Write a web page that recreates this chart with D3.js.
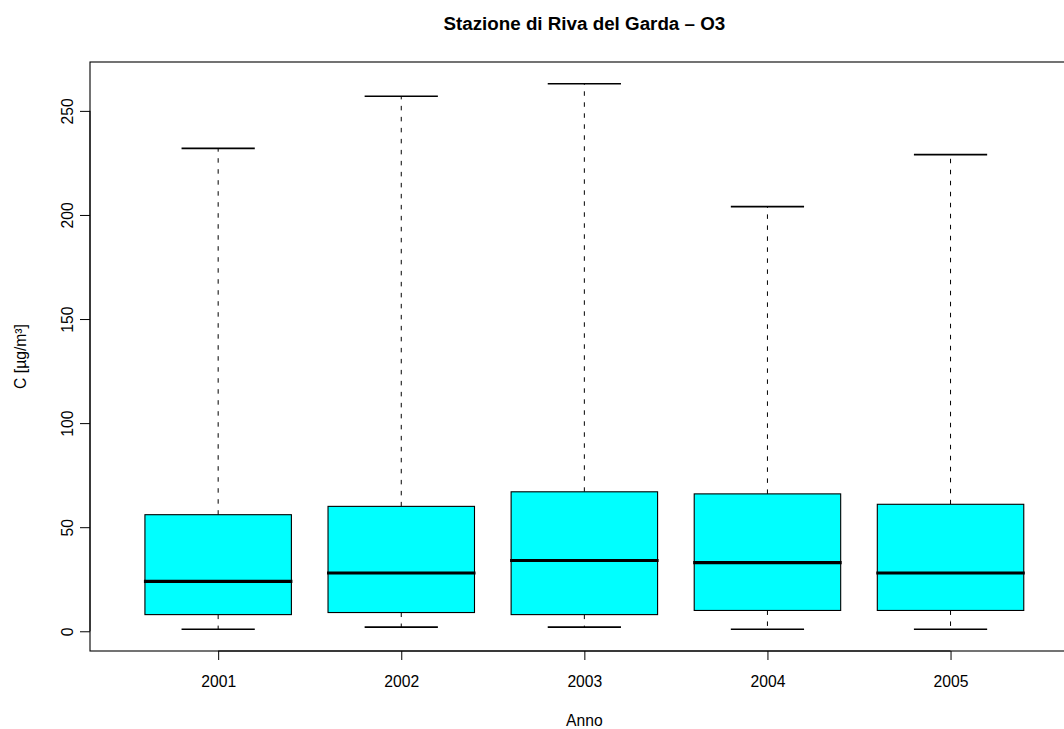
<!DOCTYPE html>
<html>
<head>
<meta charset="utf-8">
<script src="https://cdn.jsdelivr.net/npm/d3@7"></script>
<style>
  html, body { margin: 0; padding: 0; background: #fff; }
  svg { display: block; font-family: "Liberation Sans", Arial, Helvetica, sans-serif; }
</style>
</head>
<body>
<svg id="chart" width="1064" height="729"></svg>
<script>
// ---- Data ----
const categories = ["2001", "2002", "2003", "2004", "2005"];
const whiskerLow  = [1, 2, 2, 1, 1];
const q1          = [8, 9, 8, 10, 10];
const median      = [24, 28, 34, 33, 28];
const q3          = [56, 60, 67, 66, 61];
const whiskerHigh = [232, 257, 263, 204, 229];
const yTicks = [0, 50, 100, 150, 200, 250];
const titleText = "Stazione di Riva del Garda \u2013 O3";
const xLabel = "Anno";
const yLabel = "C [\u00b5g/m\u00b3]";

// ---- Layout ----
const W = 1064, H = 729;
const plotLeft = 90, plotTop = 62, plotRight = 1078.7, plotBottom = 651;

const svg = d3.select("#chart");

const n = categories.length;
// R-style extended domains (4%)
const xMinD = 0.5, xMaxD = n + 0.5;
const xPad = (xMaxD - xMinD) * 0.04;
const x = d3.scaleLinear().domain([xMinD - xPad, xMaxD + xPad]).range([plotLeft, plotRight]);
const yMinD = d3.min(whiskerLow), yMaxD = d3.max(whiskerHigh);
const yPad = (yMaxD - yMinD) * 0.04;
const y = d3.scaleLinear().domain([yMinD - yPad, yMaxD + yPad]).range([plotBottom, plotTop]);

const data = categories.map((c, i) => ({
  c, pos: i + 1, lo: whiskerLow[i], q1: q1[i], med: median[i], q3: q3[i], hi: whiskerHigh[i]
}));

const boxHalf = 0.4, capHalf = 0.2;
const g = svg.append("g");

// whiskers (dashed)
g.selectAll(".whiskUp").data(data).enter().append("line")
  .attr("x1", d => x(d.pos)).attr("x2", d => x(d.pos))
  .attr("y1", d => y(d.q3)).attr("y2", d => y(d.hi))
  .attr("stroke", "#000").attr("stroke-width", 1).attr("stroke-dasharray", "4.5,6.5");
g.selectAll(".whiskDn").data(data).enter().append("line")
  .attr("x1", d => x(d.pos)).attr("x2", d => x(d.pos))
  .attr("y1", d => y(d.q1)).attr("y2", d => y(d.lo))
  .attr("stroke", "#000").attr("stroke-width", 1).attr("stroke-dasharray", "4.5,6.5");

// caps
g.selectAll(".capHi").data(data).enter().append("line")
  .attr("x1", d => x(d.pos - capHalf)).attr("x2", d => x(d.pos + capHalf))
  .attr("y1", d => y(d.hi)).attr("y2", d => y(d.hi))
  .attr("stroke", "#000").attr("stroke-width", 1.6);
g.selectAll(".capLo").data(data).enter().append("line")
  .attr("x1", d => x(d.pos - capHalf)).attr("x2", d => x(d.pos + capHalf))
  .attr("y1", d => y(d.lo)).attr("y2", d => y(d.lo))
  .attr("stroke", "#000").attr("stroke-width", 1.6);

// boxes
g.selectAll(".box").data(data).enter().append("rect")
  .attr("x", d => x(d.pos - boxHalf))
  .attr("width", d => x(d.pos + boxHalf) - x(d.pos - boxHalf))
  .attr("y", d => y(d.q3))
  .attr("height", d => y(d.q1) - y(d.q3))
  .attr("fill", "#00FFFF").attr("stroke", "#000").attr("stroke-width", 1.1);

// medians
g.selectAll(".med").data(data).enter().append("line")
  .attr("x1", d => x(d.pos - boxHalf) - 1).attr("x2", d => x(d.pos + boxHalf) + 1)
  .attr("y1", d => y(d.med)).attr("y2", d => y(d.med))
  .attr("stroke", "#000").attr("stroke-width", 3.2);

// plot frame
svg.append("rect")
  .attr("x", plotLeft).attr("y", plotTop)
  .attr("width", plotRight - plotLeft).attr("height", plotBottom - plotTop)
  .attr("fill", "none").attr("stroke", "#000").attr("stroke-width", 1.1);

// y axis
const yAxis = svg.append("g").attr("transform", `translate(${plotLeft},0)`)
  .call(d3.axisLeft(y).tickValues(yTicks).tickSize(10).tickSizeOuter(0).tickFormat(d3.format("d")));
yAxis.select(".domain").attr("d", `M0,${y(yTicks[0])}V${y(yTicks[yTicks.length - 1])}`).attr("stroke", "#000");
yAxis.selectAll(".tick line").attr("stroke", "#000");
yAxis.selectAll(".tick text")
  .attr("font-size", "15.7px").attr("fill", "#000")
  .attr("x", 0).attr("dy", null)
  .attr("text-anchor", "middle")
  .attr("transform", "translate(-17.3,0) rotate(-90)")
  .attr("y", 0);

// x axis
const xAxis = svg.append("g").attr("transform", `translate(0,${plotBottom})`)
  .call(d3.axisBottom(x).tickValues(data.map(d => d.pos)).tickSize(9).tickSizeOuter(0)
        .tickFormat((d, i) => categories[i]));
xAxis.select(".domain").attr("d", `M${x(1)},0H${x(n)}`).attr("stroke", "#000");
xAxis.selectAll(".tick line").attr("stroke", "#000");
xAxis.selectAll(".tick text")
  .attr("font-size", "15.7px").attr("fill", "#000")
  .attr("dy", null).attr("y", 36);

// title
svg.append("text")
  .attr("x", (plotLeft + plotRight) / 2).attr("y", 29.5)
  .attr("text-anchor", "middle").attr("font-weight", "bold").attr("font-size", "18.8px")
  .text(titleText);

// axis labels
svg.append("text")
  .attr("x", (plotLeft + plotRight) / 2).attr("y", 726)
  .attr("text-anchor", "middle").attr("font-size", "15.7px")
  .text(xLabel);
svg.append("text")
  .attr("transform", `translate(26,${(plotTop + plotBottom) / 2}) rotate(-90)`)
  .attr("text-anchor", "middle").attr("font-size", "15.7px")
  .text(yLabel);
</script>
</body>
</html>
